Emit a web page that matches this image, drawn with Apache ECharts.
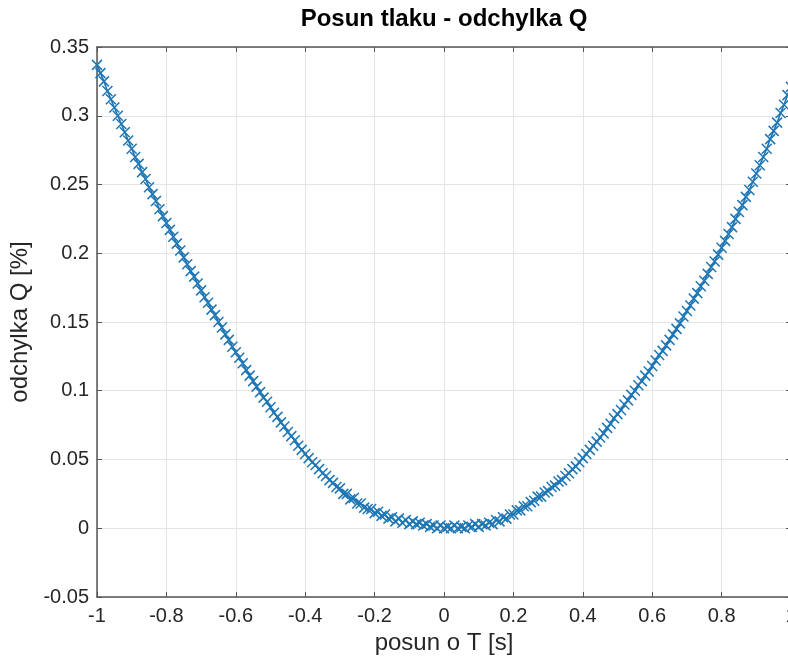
<!DOCTYPE html>
<html>
<head>
<meta charset="utf-8">
<script src="https://cdn.jsdelivr.net/npm/echarts@6/dist/echarts.min.js"></script>
<style>html,body{margin:0;padding:0;background:#fff;}#chart{width:788px;height:660px;}</style>
</head>
<body>
<div id="chart"></div>
<script>
// Data
const titleText = 'Posun tlaku - odchylka Q';
const xName = 'posun o T [s]';
const yName = 'odchylka Q [%]';
const xStart = -1;
const xStep = 0.01;
const yValues = [
  0.337,0.331,0.325,0.318,0.312,0.306,0.300,0.294,0.288,0.282,
  0.276,0.270,0.265,0.259,0.254,0.248,0.243,0.238,0.232,0.227,
  0.222,0.217,0.212,0.207,0.202,0.197,0.192,0.187,0.183,0.178,
  0.173,0.168,0.164,0.159,0.155,0.150,0.146,0.141,0.137,0.132,
  0.128,0.124,0.120,0.115,0.111,0.107,0.103,0.099,0.095,0.092,
  0.088,0.084,0.081,0.077,0.074,0.070,0.067,0.064,0.060,0.057,
  0.054,0.051,0.048,0.046,0.043,0.040,0.038,0.035,0.033,0.030,
  0.029,0.025,0.025,0.021,0.022,0.018,0.018,0.015,0.014,0.014,
  0.011,0.012,0.009,0.010,0.007,0.008,0.005,0.007,0.004,0.006,
  0.003,0.005,0.003,0.004,0.002,0.003,0.001,0.002,0.000,0.002,
  0.000,0.001,0.000,0.002,0.000,0.001,0.000,0.002,0.001,0.003,
  0.001,0.003,0.002,0.004,0.003,0.006,0.005,0.008,0.007,0.010,
  0.010,0.013,0.013,0.016,0.016,0.019,0.020,0.023,0.023,0.026,
  0.027,0.030,0.031,0.034,0.035,0.038,0.040,0.043,0.045,0.048,
  0.051,0.054,0.057,0.060,0.063,0.066,0.069,0.073,0.076,0.080,
  0.083,0.086,0.090,0.093,0.097,0.100,0.104,0.107,0.111,0.114,
  0.118,0.122,0.126,0.129,0.133,0.137,0.141,0.145,0.149,0.154,
  0.158,0.162,0.167,0.171,0.176,0.180,0.185,0.190,0.194,0.199,
  0.204,0.209,0.214,0.219,0.225,0.230,0.235,0.241,0.246,0.252,
  0.258,0.264,0.270,0.276,0.283,0.289,0.295,0.302,0.308,0.315,
  0.321
];
const xAxisRange = [-1, 1, 0.2];
const yAxisRange = [-0.05, 0.35, 0.05];

const points = yValues.map((y, i) => [Math.round((xStart + i * xStep) * 1000) / 1000, y]);

const font = "'Liberation Sans', Arial, Helvetica, sans-serif";
const axisColor = '#555555';
const textColor = '#262626';
const gridColor = '#e4e4e4';
const lineColor = '#1f77b4';
const fmt = v => String(Math.round(v * 100) / 100);

const baseAxis = (range) => ({
  type: 'value', min: range[0], max: range[1], interval: range[2],
  axisLine: { show: true, onZero: false, lineStyle: { color: axisColor, width: 1.5 } },
  axisTick: { show: true, inside: true, length: 5, lineStyle: { color: axisColor, width: 1 } }
});

const chart = echarts.init(document.getElementById('chart'), null, { renderer: 'canvas' });
chart.setOption({
  animation: false,
  backgroundColor: '#ffffff',
  title: {
    text: titleText, left: 444, top: 7, textAlign: 'center', padding: 0,
    textStyle: { fontFamily: font, fontSize: 24, fontWeight: 'bold', color: '#000' }
  },
  grid: { left: 97, top: 47, width: 694, height: 550, containLabel: false, outerBoundsMode: 'none' },
  xAxis: [
    Object.assign(baseAxis(xAxisRange), {
      position: 'bottom',
      name: xName, nameLocation: 'middle', nameGap: 31,
      nameTextStyle: { fontFamily: font, fontSize: 24, color: textColor },
      axisLabel: { margin: 9, fontFamily: font, fontSize: 20, color: textColor, formatter: fmt },
      splitLine: { show: true, lineStyle: { color: gridColor, width: 1 } }
    }),
    Object.assign(baseAxis(xAxisRange), {
      position: 'top', axisLabel: { show: false }, splitLine: { show: false }
    })
  ],
  yAxis: [
    Object.assign(baseAxis(yAxisRange), {
      position: 'left',
      name: yName, nameLocation: 'middle', nameGap: 63, nameRotate: 90,
      nameTextStyle: { fontFamily: font, fontSize: 24, color: textColor },
      axisLabel: { margin: 8, fontFamily: font, fontSize: 20, color: textColor, formatter: fmt },
      splitLine: { show: true, lineStyle: { color: gridColor, width: 1 } }
    }),
    Object.assign(baseAxis(yAxisRange), {
      position: 'right', axisLabel: { show: false }, splitLine: { show: false }
    })
  ],
  series: [{
    type: 'line',
    xAxisIndex: 0, yAxisIndex: 0,
    data: points,
    symbol: 'path://M0,0L10,10M10,0L0,10',
    symbolSize: 10,
    showSymbol: true,
    showAllSymbol: true,
    lineStyle: { color: lineColor, width: 1.6 },
    itemStyle: { color: 'none', borderColor: lineColor, borderWidth: 1.5 }
  }]
});
</script>
</body>
</html>
